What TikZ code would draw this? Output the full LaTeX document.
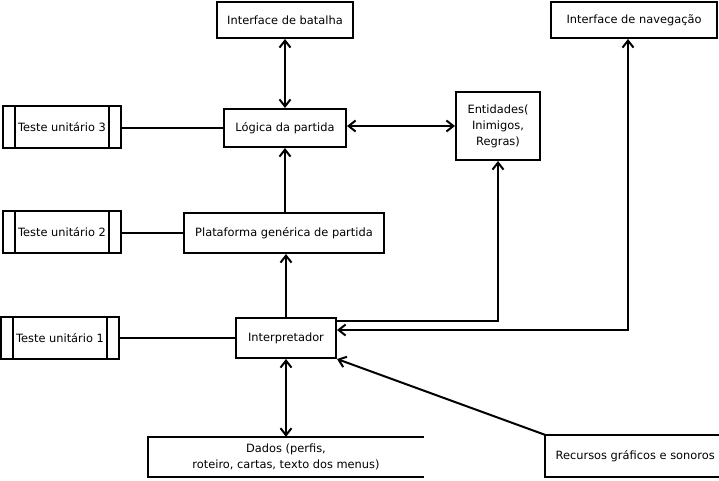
\documentclass[tikz,border=0pt]{standalone}
\usepackage{fontspec}
\setmainfont{DejaVu Sans}
\usetikzlibrary{arrows.meta}
\tikzset{
  box/.style = {
    draw,
    line width=2pt,
    inner sep=2pt,
    align=center
  },
  link/.style = {
    line width=2pt
  },
  arrow/.style = {
    link,
    -{Straight Barb[length=7pt,width=11pt]}
  },
  twoway/.style = {
    link,
    {Straight Barb[length=7pt,width=11pt]}-{Straight Barb[length=7pt,width=11pt]}
  },
  testbox/.style = {
    box,
    minimum width=118pt,
    minimum height=42pt,
    path picture = {
      \draw [link] ([xshift=12pt]path picture bounding box.north west)
        -- ([xshift=12pt]path picture bounding box.south west);
      \draw [link] ([xshift=-12pt]path picture bounding box.north east)
        -- ([xshift=-12pt]path picture bounding box.south east);
    }
  },
}

\begin{document}
\begin{tikzpicture}[x=1pt,y=-1pt,font=\fontsize{11.4}{16}\selectfont]
  \useasboundingbox (0,0) rectangle (719,480);

  % top row
  \node [box,minimum width=136pt,minimum height=36pt] (batalha) at (285,20) {Interface de batalha};
  \node [box,minimum width=166pt,minimum height=36pt] (navegacao) at (634,20) {Interface de navegação};

  % middle column
  \node [box,minimum width=122pt,minimum height=38pt] (logica) at (285,128) {Lógica da partida};
  \node [box,minimum width=84pt,minimum height=68pt] (entidades) at (498,126) {Entidades(\\Inimigos,\\Regras)};
  \node [box,minimum width=200pt,minimum height=40pt] (plataforma) at (284,233) {Plataforma genérica de partida};
  \node [box,minimum width=100pt,minimum height=40pt] (interpretador) at (286,338) {Interpretador};

  % unit tests
  \node [testbox] (teste3) at (62,127) {Teste unitário 3};
  \node [testbox] (teste2) at (62,232) {Teste unitário 2};
  \node [testbox] (teste1) at (60,338) {Teste unitário 1};

  % open boxes
  \node [minimum width=276pt,minimum height=40pt,align=center] (dados) at (286,457) {Dados (perfis,\\roteiro, cartas, texto dos menus)};
  \draw [link] (dados.north east) -- (dados.north west) -- (dados.south west) -- (dados.south east);
  \node [minimum width=180pt,minimum height=42pt,anchor=west] (recursos) at (545,456) {Recursos gráficos e sonoros};
  \draw [link] (recursos.north east) -- (recursos.north west) -- (recursos.south west) -- (recursos.south east);

  \draw [twoway] (batalha.south) -- (batalha.south |- logica.north);
  \draw [twoway] (logica.east |- entidades.west) -- (entidades.west);
  \draw [arrow] (plataforma.north -| logica.south) -- (logica.south);
  \draw [arrow] (interpretador.north) -- (interpretador.north |- plataforma.south);

  \draw [link] (teste3.east |- logica.west) -- (logica.west);
  \draw [link] (teste2.east |- plataforma.west) -- (plataforma.west);
  \draw [link] (teste1.east) -- (interpretador.west);

  \draw [arrow] ([yshift=17pt]interpretador.east) -| (entidades.south);
  \draw [twoway] ([xshift=-6pt]navegacao.south) |- ([yshift=8pt]interpretador.east);
  \draw [twoway] (interpretador.south) -- (interpretador.south |- dados.north);
  \draw [arrow] (recursos.north west) -- (interpretador.south east);
\end{tikzpicture}
\end{document}
